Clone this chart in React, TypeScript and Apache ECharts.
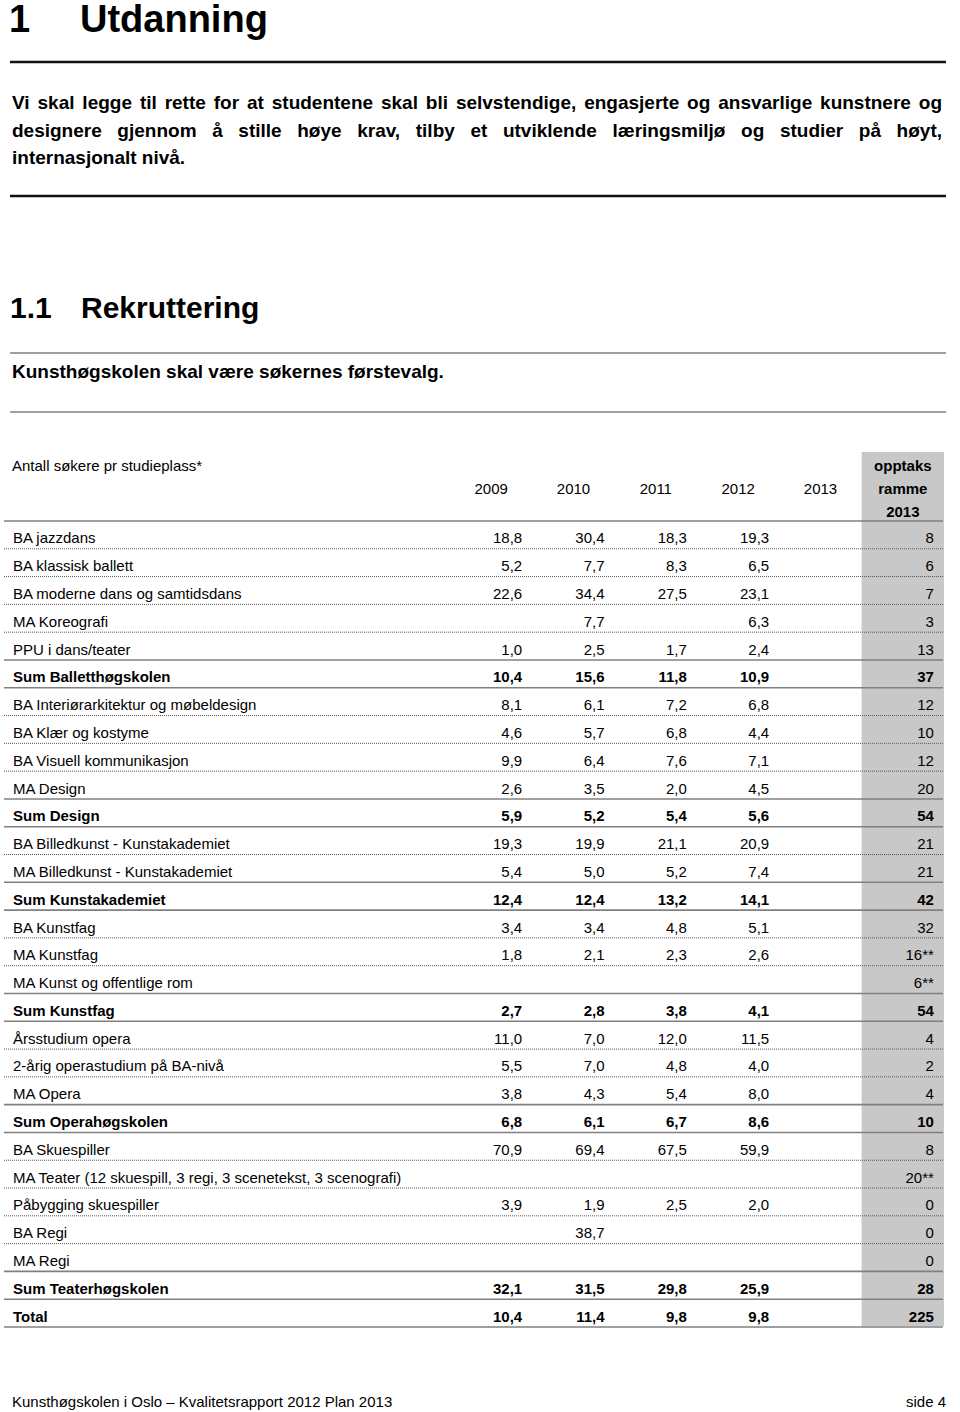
import React, { useEffect, useRef } from 'react';
import * as echarts from 'echarts';

const FONT = "'Liberation Sans', Arial, sans-serif";

const columnHeaders = ['2009', '2010', '2011', '2012', '2013', 'opptaks ramme 2013'];

const rowLabels = [
  'BA jazzdans',
  'BA klassisk ballett',
  'BA moderne dans og samtidsdans',
  'MA Koreografi',
  'PPU i dans/teater',
  'Sum Balletthøgskolen',
  'BA Interiørarkitektur og møbeldesign',
  'BA Klær og kostyme',
  'BA Visuell kommunikasjon',
  'MA Design',
  'Sum Design',
  'BA Billedkunst - Kunstakademiet',
  'MA Billedkunst - Kunstakademiet',
  'Sum Kunstakademiet',
  'BA Kunstfag',
  'MA Kunstfag',
  'MA Kunst og offentlige rom',
  'Sum Kunstfag',
  'Årsstudium opera',
  '2-årig operastudium på BA-nivå',
  'MA Opera',
  'Sum Operahøgskolen',
  'BA Skuespiller',
  'MA Teater (12 skuespill, 3 regi, 3 scenetekst, 3 scenografi)',
  'Påbygging skuespiller',
  'BA Regi',
  'MA Regi',
  'Sum Teaterhøgskolen',
  'Total',
];

const v2009 = [18.8, 5.2, 22.6, null, 1.0, 10.4, 8.1, 4.6, 9.9, 2.6, 5.9, 19.3, 5.4, 12.4, 3.4, 1.8, null, 2.7, 11.0, 5.5, 3.8, 6.8, 70.9, null, 3.9, null, null, 32.1, 10.4];
const v2010 = [30.4, 7.7, 34.4, 7.7, 2.5, 15.6, 6.1, 5.7, 6.4, 3.5, 5.2, 19.9, 5.0, 12.4, 3.4, 2.1, null, 2.8, 7.0, 7.0, 4.3, 6.1, 69.4, null, 1.9, 38.7, null, 31.5, 11.4];
const v2011 = [18.3, 8.3, 27.5, null, 1.7, 11.8, 7.2, 6.8, 7.6, 2.0, 5.4, 21.1, 5.2, 13.2, 4.8, 2.3, null, 3.8, 12.0, 4.8, 5.4, 6.7, 67.5, null, 2.5, null, null, 29.8, 9.8];
const v2012 = [19.3, 6.5, 23.1, 6.3, 2.4, 10.9, 6.8, 4.4, 7.1, 4.5, 5.6, 20.9, 7.4, 14.1, 5.1, 2.6, null, 4.1, 11.5, 4.0, 8.0, 8.6, 59.9, null, 2.0, null, null, 25.9, 9.8];
const v2013: (number | null)[] = rowLabels.map(() => null);
const ramme2013 = ['8', '6', '7', '3', '13', '37', '12', '10', '12', '20', '54', '21', '21', '42', '32', '16**', '6**', '54', '4', '2', '4', '10', '8', '20**', '0', '0', '0', '28', '225'];

const titleText = ['1', 'Utdanning'];
const paragraphLines = [
  'Vi skal legge til rette for at studentene skal bli selvstendige, engasjerte og ansvarlige kunstnere og',
  'designere gjennom å stille høye krav, tilby et utviklende læringsmiljø og studier på høyt,',
  'internasjonalt nivå.',
];
const sectionText = ['1.1', 'Rekruttering'];
const goalText = 'Kunsthøgskolen skal være søkernes førstevalg.';
const tableTitle = 'Antall søkere pr studieplass*';
const footerLeft = 'Kunsthøgskolen i Oslo – Kvalitetsrapport 2012 Plan 2013';
const footerRight = 'side 4';

const isBold = (name: string) => name.startsWith('Sum ') || name === 'Total';
const fmt = (v: number) => v.toFixed(1).replace('.', ',');

export default function App() {
  const ref = useRef<HTMLDivElement>(null);

  useEffect(() => {
    if (!ref.current) return;
    const chart = echarts.init(ref.current, null, { renderer: 'svg' });

    const canvas = document.createElement('canvas');
    const ctx = canvas.getContext('2d')!;
    const measure = (t: string, font: string) => {
      ctx.font = font;
      return ctx.measureText(t).width;
    };

    const txt = (text: string, x: number, y: number, font: string, align = 'left') => ({
      type: 'text',
      x,
      y,
      silent: true,
      style: { text, font, fill: '#000', textAlign: align, textVerticalAlign: 'middle' },
    });
    const rule = (y: number, color: string, w: number) => ({
      type: 'line',
      silent: true,
      shape: { x1: 10, y1: y, x2: 946, y2: y },
      style: { stroke: color, lineWidth: w },
    });

    const paraFont = `bold 19px ${FONT}`;
    const paraX0 = 12;
    const paraX1 = 942;
    const paraY = [102.5, 130, 157];
    const graphics: any[] = [];
    paragraphLines.forEach((line, li) => {
      const words = line.split(' ');
      if (li === paragraphLines.length - 1) {
        graphics.push(txt(line, paraX0, paraY[li], paraFont));
        return;
      }
      const widths = words.map((w) => measure(w, paraFont));
      const total = widths.reduce((a, b) => a + b, 0);
      const gap = (paraX1 - paraX0 - total) / (words.length - 1);
      let x = paraX0;
      words.forEach((w, i) => {
        graphics.push(txt(w, x, paraY[li], paraFont));
        x += widths[i] + gap;
      });
    });

    graphics.push(
      txt(titleText[0], 9, 19, `bold 38px ${FONT}`),
      txt(titleText[1], 80, 19, `bold 38px ${FONT}`),
      rule(62, '#111', 2.5),
      rule(196, '#111', 2.5),
      txt(sectionText[0], 10, 307, `bold 30px ${FONT}`),
      txt(sectionText[1], 81, 307, `bold 30px ${FONT}`),
      rule(353, '#808080', 1.6),
      txt(goalText, 12, 371, `bold 19px ${FONT}`),
      rule(412, '#808080', 1.6),
      txt(tableTitle, 12, 465, `15px ${FONT}`),
      txt(footerLeft, 12, 1401, `15px ${FONT}`),
      txt(footerRight, 946, 1401, `15px ${FONT}`, 'right'),
    );

    const yearCols = [v2009, v2010, v2011, v2012, v2013];
    const cells: any[] = [];
    yearCols.forEach((col, c) => {
      col.forEach((v, r) => {
        if (v !== null && v !== undefined) cells.push([c, r, fmt(v), isBold(rowLabels[r]) ? 1 : 0]);
      });
    });
    ramme2013.forEach((v, r) => {
      if (v !== '') cells.push([5, r, v, isBold(rowLabels[r]) ? 1 : 0]);
    });

    const lineData = rowLabels.map((_, i) => [0, i]);

    chart.setOption({
      animation: false,
      backgroundColor: '#fff',
      textStyle: { fontFamily: FONT },
      grid: { left: 450, top: 521, width: 494, height: 806, containLabel: false },
      xAxis: {
        type: 'category',
        position: 'top',
        z: 10,
        data: columnHeaders,
        axisLine: { show: false },
        axisTick: { show: false },
        splitLine: { show: false },
        axisLabel: {
          interval: 0,
          margin: -2,
          verticalAlign: 'bottom',
          formatter: (v: string) =>
            v.includes(' ')
              ? v.split(' ').map((p) => `{b|${p}}`).join('\n')
              : `{n|${v}}\n{n|\u00a0}`,
          rich: {
            n: { fontFamily: FONT, fontSize: 15, color: '#000', lineHeight: 23 },
            b: { fontFamily: FONT, fontSize: 15, fontWeight: 'bold', color: '#000', lineHeight: 23 },
          },
        },
      },
      yAxis: {
        type: 'category',
        inverse: true,
        z: 10,
        data: rowLabels,
        axisLine: { show: false },
        axisTick: { show: false },
        splitLine: { show: false },
        axisLabel: {
          interval: 0,
          align: 'left',
          margin: 437,
          padding: [6, 0, 0, 0],
          formatter: (v: string) => (isBold(v) ? `{b|${v}}` : `{n|${v}}`),
          rich: {
            n: { fontFamily: FONT, fontSize: 15, color: '#000' },
            b: { fontFamily: FONT, fontSize: 15, fontWeight: 'bold', color: '#000' },
          },
        },
      },
      graphic: { elements: graphics },
      series: [
        {
          type: 'custom',
          name: 'shade',
          silent: true,
          z: 0,
          zlevel: 0,
          encode: { x: 0, y: 1 },
          data: [[5, 0]],
          renderItem: (params: any, api: any) => {
            const cs = params.coordSys;
            const bw = api.size([1, 0])[0];
            const cx = api.coord([5, 0])[0];
            return {
              type: 'rect',
              z2: -10,
              shape: { x: cx - bw / 2, y: cs.y - 69, width: bw, height: cs.height + 68 },
              style: { fill: '#c8c8c8' },
            };
          },
        },
        {
          type: 'custom',
          name: 'rules',
          silent: true,
          z: 2,
          encode: { x: 0, y: 1 },
          data: lineData,
          renderItem: (params: any, api: any) => {
            const cs = params.coordSys;
            const i = api.value(1);
            const bh = api.size([0, 1])[1];
            const y = api.coord([0, i])[1] + bh / 2;
            const next = rowLabels[i + 1];
            const solid = isBold(rowLabels[i]) || (next !== undefined && isBold(next)) || next === undefined;
            const x1 = 4;
            const x2 = cs.x + cs.width - 1;
            const children: any[] = [
              {
                type: 'line',
                shape: { x1, y1: y, x2, y2: y },
                style: solid
                  ? { stroke: '#808080', lineWidth: 1.6 }
                  : { stroke: '#555', lineWidth: 1, lineDash: [1, 1] },
              },
            ];
            if (i === 0) {
              const yt = api.coord([0, 0])[1] - bh / 2;
              children.push({
                type: 'line',
                shape: { x1, y1: yt, x2, y2: yt },
                style: { stroke: '#808080', lineWidth: 1.6 },
              });
            }
            return { type: 'group', children };
          },
        },
        {
          type: 'custom',
          name: 'cells',
          silent: true,
          z: 3,
          encode: { x: 0, y: 1 },
          dimensions: ['col', 'row', 'label', 'bold'],
          data: cells,
          renderItem: (params: any, api: any) => {
            const d = cells[params.dataIndex];
            const p = api.coord([d[0], d[1]]);
            return {
              type: 'text',
              x: p[0] + 31,
              y: p[1] + 3,
              style: {
                text: d[2],
                font: `${d[3] ? 'bold ' : ''}15px ${FONT}`,
                fill: '#000',
                textAlign: 'right',
                textVerticalAlign: 'middle',
              },
            };
          },
        },
      ],
    });

    return () => chart.dispose();
  }, []);

  return (
    <div
      ref={ref}
      style={{ position: 'absolute', left: 0, top: 0, width: 960, height: 1412, background: '#fff' }}
    />
  );
}
